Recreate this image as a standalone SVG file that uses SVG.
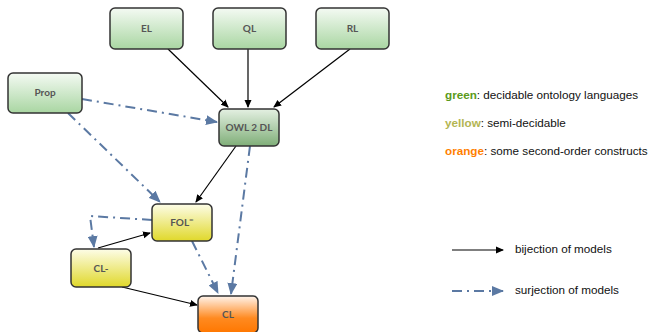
<svg xmlns="http://www.w3.org/2000/svg" width="652" height="332" viewBox="0 0 652 332">
<style>
.box{stroke:#333;stroke-width:1.5}
.lbl{font-family:Lato,"Open Sans",sans-serif;font-weight:bold;font-size:10px;fill:#555;text-anchor:middle}
.bij{stroke:#000;stroke-width:1.2;fill:none;marker-end:url(#ab)}
.sur{stroke:#5b79a3;stroke-width:2;fill:none;stroke-dasharray:10,5,2,5;marker-end:url(#as)}
.leg{font-family:"Liberation Sans",Arial,sans-serif;font-size:11.7px;fill:#111}
</style>
<defs>
<linearGradient id="gG" x1="0" y1="0" x2="0" y2="1"><stop offset="0" stop-color="#f4faf3"/><stop offset="1" stop-color="#a9d6a2"/></linearGradient>
<linearGradient id="gD" x1="0" y1="0" x2="0" y2="1"><stop offset="0" stop-color="#e4f0e2"/><stop offset="1" stop-color="#7fae78"/></linearGradient>
<linearGradient id="gY" x1="0" y1="0" x2="0" y2="1"><stop offset="0" stop-color="#fdfde8"/><stop offset="1" stop-color="#e0d82a"/></linearGradient>
<linearGradient id="gO" x1="0" y1="0" x2="0" y2="1"><stop offset="0" stop-color="#fff4ec"/><stop offset="0.6" stop-color="#ff8a20"/><stop offset="1" stop-color="#ff7700"/></linearGradient>
<marker id="ab" markerWidth="8" markerHeight="8" refX="7" refY="4" orient="auto" markerUnits="userSpaceOnUse"><path d="M0,0.5 L8,4 L0,7.5 Z" fill="#000"/></marker>
<marker id="as" markerWidth="12" markerHeight="10" refX="11" refY="5" orient="auto" markerUnits="userSpaceOnUse"><path d="M0,0 L12,5 L0,10 Z" fill="#5b79a3"/></marker>
</defs>
<rect width="652" height="332" fill="#fff"/>
<g id="connectors">
<path class="bij" d="M168,49 L228,107"/>
<path class="bij" d="M248,49 L248,107"/>
<path class="bij" d="M350,49 L274,107"/>
<path class="bij" d="M236,146 L196,202"/>
<path class="bij" d="M98,248 L150,233"/>
<path class="bij" d="M122,287 L197,305"/>
<path class="sur" d="M82,99 L217,122"/>
<path class="sur" d="M68,113 L160,202"/>
<path class="sur" d="M250,146 L231,294"/>
<path class="sur" d="M192,241 L218,293"/>
<path class="sur" d="M152,220 L90,216 L94,247"/>
</g>
<g id="EL"><rect class="box" x="110" y="8" width="73" height="41" rx="5" fill="url(#gG)"/><text class="lbl" x="146.5" y="32">EL</text></g>
<g id="QL"><rect class="box" x="213" y="8" width="73" height="41" rx="5" fill="url(#gG)"/><text class="lbl" x="249.5" y="32">QL</text></g>
<g id="RL"><rect class="box" x="316" y="8" width="73" height="41" rx="5" fill="url(#gG)"/><text class="lbl" x="352.5" y="32">RL</text></g>
<g id="Prop"><rect class="box" x="8" y="73" width="74" height="40" rx="5" fill="url(#gG)"/><text class="lbl" x="45" y="96">Prop</text></g>
<g id="OWL2DL"><rect class="box" x="219" y="109" width="60" height="37" rx="5" fill="url(#gD)"/><text class="lbl" x="249" y="131">OWL 2 DL</text></g>
<g id="FOL"><rect class="box" x="152" y="204" width="60" height="37" rx="5" fill="url(#gY)"/><text class="lbl" x="182" y="226">FOL<tspan dy="-4" font-size="8">=</tspan></text></g>
<g id="CLminus"><rect class="box" x="71" y="249" width="60" height="38" rx="5" fill="url(#gY)"/><text class="lbl" x="101" y="272">CL-</text></g>
<g id="CL"><rect class="box" x="198" y="296" width="60" height="37" rx="5" fill="url(#gO)"/><text class="lbl" x="228" y="318">CL</text></g>
<g id="legend">
<text class="leg" x="445" y="99"><tspan font-weight="bold" fill="#5a9a1a">green</tspan>: decidable ontology languages</text>
<text class="leg" x="445" y="127"><tspan font-weight="bold" fill="#b3b552">yellow</tspan>: semi-decidable</text>
<text class="leg" x="445" y="155"><tspan font-weight="bold" fill="#ff7f00">orange</tspan>: some second-order constructs</text>
<path class="bij" d="M452,250 L503,250"/>
<text class="leg" x="515" y="253">bijection of models</text>
<path class="sur" d="M452,291 L503,291"/>
<text class="leg" x="515" y="294">surjection of models</text>
</g>
</svg>
